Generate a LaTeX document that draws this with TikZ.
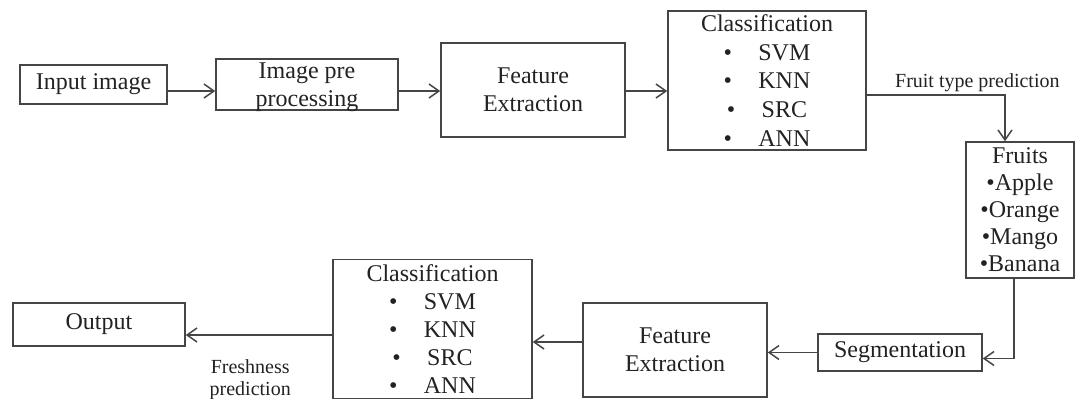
\documentclass[tikz,border=0pt]{standalone}
\usepackage{fontspec}
\setmainfont{Liberation Serif}
\usetikzlibrary{arrows.meta,calc,positioning}
\definecolor{linegray}{HTML}{454545}
\definecolor{textgray}{HTML}{222222}
\newcommand{\bitem}[1]{\textbullet\hspace{1.1em}#1}
\tikzset{%
	block/.style    = {draw=linegray, line width=0.75pt, rectangle, align=center, inner sep=0pt, text=textgray, font=\fontsize{12}{14}\selectfont}, % Box
	note/.style     = {align=center, inner sep=1pt, text=textgray, font=\fontsize{10}{11}\selectfont}, % Connector text
	waypoint/.style = {coordinate}, % Turn point
	flow/.style     = {->, draw=linegray, line width=0.75pt},
}

\begin{document}
\begin{tikzpicture}[x=0.5pt, y=-0.5pt, >={Straight Barb[length=5pt,width=7pt]}]
	\useasboundingbox (0,0) rectangle (1077,398);
	% first row
	\node[block, minimum width=73.5pt, minimum height=19.5pt] (inp) at (93.5,84.5) {Input image};
	\node[block, minimum width=91pt, minimum height=25.5pt, text depth=0pt] (pre) at (307,84.5) {Image pre\\processing};
	\node[block, minimum width=92pt, minimum height=47pt] (fe1) at (533,90) {Feature\\Extraction};
	\node[block, minimum width=99pt, minimum height=69.5pt, font=\fontsize{12}{14.3}\selectfont] (cls1) at (767,80.5) {Classification\\\bitem{SVM}\\\bitem{KNN}\\\bitem{SRC}\\\bitem{ANN}};
	\node[block, minimum width=54pt, minimum height=68pt, font=\fontsize{12}{13.5}\selectfont] (fruits) at (1020,210) {Fruits\\\textbullet Apple\\\textbullet Orange\\\textbullet Mango\\\textbullet Banana};
	% second row
	\node[block, minimum width=82pt, minimum height=18.5pt] (seg) at (900,352.5) {Segmentation};
	\node[block, minimum width=92pt, minimum height=47pt] (fe2) at (675,350) {Feature\\Extraction};
	\node[block, minimum width=99.5pt, minimum height=69.5pt] (cls2) at (432.5,329) {Classification\\\bitem{SVM}\\\bitem{KNN}\\\bitem{SRC}\\\bitem{ANN}};
	\node[block, minimum width=86pt, minimum height=21.5pt] (out) at (99,324.5) {Output};
	\node[waypoint] (row1) at (0,91) {};
	\node[waypoint] (row2) at (0,342) {};
	\node[waypoint] (row3) at (0,335) {};
	\node[waypoint] (fork) at (0,95) {};
	\draw[flow] (inp.east |- row1) -- (pre.west |- row1);
	\draw[flow] (pre.east |- row1) -- (fe1.west |- row1);
	\draw[flow] (fe1.east |- row1) -- (cls1.west |- row1);
	\draw[flow] (cls1.east |- fork) -| node[note, above, pos=0.4] {Fruit type prediction} ([xshift=-7.5pt]fruits.north);
	\draw[flow] ([xshift=-3pt]fruits.south) |- ([yshift=-3pt]seg.east);
	\draw[flow] (seg.west) -- (seg.west -| fe2.east);
	\draw[flow] (fe2.west |- row2) -- (cls2.east |- row2);
	\draw[flow] (cls2.west |- row3) -- node[note, below=11pt, pos=0.56] {Freshness\\prediction} (out.east |- row3);
\end{tikzpicture}
\end{document}
